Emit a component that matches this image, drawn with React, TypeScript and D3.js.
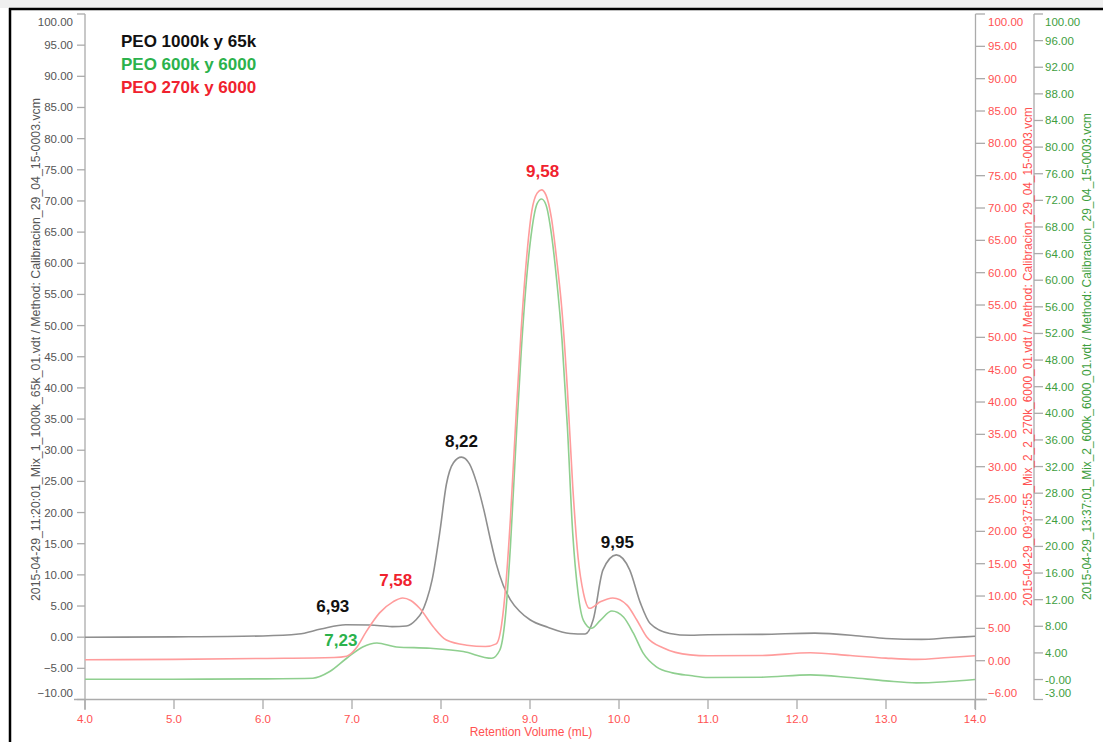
import React from "react";
import * as d3 from "d3";

// Retention volume (mL) vs detector response for three PEO calibration mixes.
// Each series is plotted against its own y axis.

const blackX = [4.0, 5.0, 6.0, 6.4, 6.65, 6.93, 7.2, 7.45, 7.61, 7.72, 7.78, 7.84, 7.9, 7.99, 8.06, 8.14, 8.23, 8.32, 8.4, 8.48, 8.55, 8.62, 8.7, 8.78, 8.88, 9.0, 9.2, 9.45, 9.62, 9.71, 9.82, 9.97, 10.12, 10.24, 10.35, 10.57, 10.8, 11.0, 11.6, 12.2, 12.7, 13.0, 13.4, 13.7, 14.0];
const blackY = [0.0, 0.05, 0.2, 0.5, 1.3, 2.0, 1.95, 1.7, 1.8, 2.8, 3.9, 6.0, 9.2, 17.2, 24.5, 28.0, 28.9, 27.8, 24.8, 20.5, 16.0, 11.8, 8.3, 6.0, 4.2, 2.8, 1.6, 0.6, 0.5, 2.8, 10.8, 13.2, 10.8, 5.5, 2.2, 0.6, 0.3, 0.4, 0.45, 0.65, 0.2, -0.2, -0.35, -0.1, 0.15];

const redX = [4.0, 5.0, 6.0, 6.8, 6.94, 7.05, 7.16, 7.31, 7.46, 7.57, 7.66, 7.76, 7.91, 8.06, 8.29, 8.5, 8.62, 8.68, 8.73, 8.78, 8.84, 8.9, 8.96, 9.02, 9.08, 9.13, 9.18, 9.24, 9.3, 9.36, 9.42, 9.48, 9.54, 9.6, 9.67, 9.79, 9.93, 10.09, 10.2, 10.31, 10.5, 10.8, 11.0, 11.6, 12.15, 12.6, 13.0, 13.34, 13.7, 14.0];
const redY = [0.15, 0.2, 0.35, 0.5, 0.7, 2.0, 4.5, 7.4, 9.1, 9.7, 9.3, 8.1, 5.3, 3.2, 2.4, 2.2, 2.6, 5.5, 12.0, 22.0, 37.0, 51.0, 62.0, 69.5, 72.3, 72.8, 72.0, 68.5, 62.0, 54.0, 42.0, 27.0, 16.0, 10.5, 8.1, 9.1, 9.7, 8.6, 6.3, 3.7, 1.96, 0.9, 0.77, 0.8, 1.24, 0.8, 0.4, 0.2, 0.5, 0.77];

const greenX = [4.0, 5.0, 6.0, 6.56, 6.75, 6.94, 7.12, 7.28, 7.5, 7.88, 8.25, 8.57, 8.66, 8.72, 8.78, 8.84, 8.9, 8.96, 9.02, 9.08, 9.13, 9.18, 9.24, 9.3, 9.36, 9.42, 9.48, 9.54, 9.6, 9.69, 9.79, 9.92, 10.05, 10.16, 10.27, 10.42, 10.6, 10.8, 11.0, 11.6, 12.15, 12.6, 13.0, 13.34, 13.7, 14.0];
const greenY = [0.05, 0.05, 0.1, 0.2, 1.2, 3.2, 4.9, 5.5, 4.9, 4.7, 4.2, 3.2, 4.4, 9.0, 20.0, 35.0, 49.0, 60.0, 67.5, 71.5, 72.2, 71.3, 67.0, 60.0, 51.0, 38.0, 22.0, 13.0, 8.9, 7.7, 8.9, 10.3, 9.4, 7.0, 4.0, 1.9, 1.0, 0.6, 0.3, 0.35, 0.7, 0.3, -0.2, -0.5, -0.3, 0.0];

const xTicks = [4, 5, 6, 7, 8, 9, 10, 11, 12, 13, 14];
const leftTicks = [-10, -5, 0, 5, 10, 15, 20, 25, 30, 35, 40, 45, 50, 55, 60, 65, 70, 75, 80, 85, 90, 95, 100];
const redTicks = [-6, 0, 5, 10, 15, 20, 25, 30, 35, 40, 45, 50, 55, 60, 65, 70, 75, 80, 85, 90, 95, 100];
const greenTicks = [-3, 0, 4, 8, 12, 16, 20, 24, 28, 32, 36, 40, 44, 48, 52, 56, 60, 64, 68, 72, 76, 80, 84, 88, 92, 96, 100];
const greenTickLabels = ["-3.00", "-0.00", "4.00", "8.00", "12.00", "16.00", "20.00", "24.00", "28.00", "32.00", "36.00", "40.00", "44.00", "48.00", "52.00", "56.00", "60.00", "64.00", "68.00", "72.00", "76.00", "80.00", "84.00", "88.00", "92.00", "96.00", "100.00"];

const legendLabels = ["PEO 1000k y 65k", "PEO 600k y 6000", "PEO 270k y 6000"];

const leftTitle = "2015-04-29_11:20:01_Mix_1_1000k_65k_01.vdt / Method: Calibracion_29_04_15-0003.vcm";
const redTitle = "2015-04-29_09:37:55_Mix_2_2_270k_6000_01.vdt / Method: Calibracion_29_04_15-0003.vcm";
const greenTitle = "2015-04-29_13:37:01_Mix_2_600k_6000_01.vdt / Method: Calibracion_29_04_15-0003.vcm";
const xTitle = "Retention Volume (mL)";

// Peak annotations: text, series, retention volume of the apex the text sits over
const peakLabels = ["6,93", "7,23", "7,58", "8,22", "9,58", "9,95"];
const peakSeries = ["black", "green", "red", "black", "red", "black"];
const peakApex = [6.93, 7.28, 7.57, 8.23, 9.13, 9.97];

const W = 1103;
const H = 742;
const FONT = "'Liberation Sans', Arial, Helvetica, sans-serif";

const x = d3.scaleLinear().domain([4, 14]).range([85, 975]);
const yBlack = d3.scaleLinear().domain([-10, 100]).range([699.5, 14]);
const yRed = d3.scaleLinear().domain([-6, 100]).range([699.5, 14]);
const yGreen = d3.scaleLinear().domain([-3, 100]).range([699.5, 14]);

const series = {
  black: { xs: blackX, ys: blackY, y: yBlack, line: "#8f8f8f", text: "#111111" },
  green: { xs: greenX, ys: greenY, y: yGreen, line: "#8fcf8f", text: "#2bb24c" },
  red: { xs: redX, ys: redY, y: yRed, line: "#ff9c9c", text: "#f0222e" },
};

// pixel offsets of each annotation relative to its apex
const peakOffsets = [
  [-13, -13],
  [-36, 3],
  [-7, -12],
  [0, -10],
  [1, -13],
  [1, -7],
];

function pathFor(key: "black" | "green" | "red") {
  const s = series[key];
  const pts = s.xs.map((v, i) => [v, s.ys[i]] as [number, number]);
  return d3
    .line<[number, number]>()
    .x((d) => x(d[0]))
    .y((d) => s.y(d[1]))
    .curve(d3.curveMonotoneX)(pts) as string;
}

function valueAt(key: "black" | "green" | "red", xv: number) {
  const s = series[key];
  const i = s.xs.indexOf(xv);
  if (i >= 0) return s.ys[i];
  const j = d3.bisectLeft(s.xs, xv);
  const t = (xv - s.xs[j - 1]) / (s.xs[j] - s.xs[j - 1]);
  return s.ys[j - 1] + t * (s.ys[j] - s.ys[j - 1]);
}

const clampLabel = (py: number) => Math.max(21.5, Math.min(693, py));

export default function App() {
  const axisColor = "#ababab";
  const leftColor = "#555555";
  const redColor = "#ff5252";
  const greenColor = "#3e9e3e";
  const fmt = d3.format(".2f");

  return (
    <svg
      width={W}
      height={H}
      style={{ position: "absolute", left: 0, top: 0, background: "#ffffff" }}
      fontFamily={FONT}
    >
      {/* page strip and frame */}
      <rect x={0} y={0} width={W} height={8} fill="#efefef" />
      <line x1={9} x2={W} y1={9} y2={9} stroke="#000" strokeWidth={2.5} />
      <line x1={10} x2={10} y1={8} y2={H} stroke="#000" strokeWidth={2.5} />

      {/* left axis */}
      <line x1={85} x2={85} y1={14} y2={710} stroke={axisColor} strokeWidth={1.3} />
      {leftTicks.map((v) => (
        <g key={"l" + v}>
          <line x1={77} x2={85} y1={yBlack(v)} y2={yBlack(v)} stroke={axisColor} strokeWidth={1.3} />
          <text x={73} y={clampLabel(yBlack(v)) + 4} textAnchor="end" fontSize={11.5} fill={leftColor}>
            {fmt(v)}
          </text>
        </g>
      ))}

      {/* red axis */}
      <line x1={975.5} x2={975.5} y1={14} y2={710} stroke={axisColor} strokeWidth={1.3} />
      {redTicks.map((v) => (
        <g key={"r" + v}>
          <line x1={975.5} x2={985} y1={yRed(v)} y2={yRed(v)} stroke={axisColor} strokeWidth={1.3} />
          <text x={988} y={clampLabel(yRed(v)) + 4} fontSize={11.5} fill={redColor}>
            {fmt(v)}
          </text>
        </g>
      ))}

      {/* green axis */}
      <line x1={1034} x2={1034} y1={14} y2={700} stroke={axisColor} strokeWidth={1.3} />
      {greenTicks.map((v, i) => (
        <g key={"g" + v}>
          <line x1={1034} x2={1043} y1={yGreen(v)} y2={yGreen(v)} stroke={axisColor} strokeWidth={1.3} />
          <text x={1045} y={clampLabel(yGreen(v)) + 4} fontSize={11.5} fill={greenColor}>
            {greenTickLabels[i]}
          </text>
        </g>
      ))}

      {/* x axis */}
      <line x1={74} x2={987} y1={699.5} y2={699.5} stroke={axisColor} strokeWidth={1.3} />
      {xTicks.map((v) => (
        <g key={"x" + v}>
          <line x1={x(v)} x2={x(v)} y1={699.5} y2={709} stroke={axisColor} strokeWidth={1.3} />
          <text x={x(v)} y={723} textAnchor="middle" fontSize={11.5} fill={redColor}>
            {v.toFixed(1)}
          </text>
        </g>
      ))}
      <text x={531} y={736} textAnchor="middle" fontSize={12} fill={redColor}>
        {xTitle}
      </text>

      {/* rotated axis titles */}
      <text transform="translate(40,601) rotate(-90)" fontSize={12} textLength={503} lengthAdjust="spacingAndGlyphs" fill={leftColor}>
        {leftTitle}
      </text>
      <text transform="translate(1032,606) rotate(-90)" fontSize={12} textLength={499} lengthAdjust="spacingAndGlyphs" fill={redColor}>
        {redTitle}
      </text>
      <text transform="translate(1091,600) rotate(-90)" fontSize={12} textLength={487} lengthAdjust="spacingAndGlyphs" fill={greenColor}>
        {greenTitle}
      </text>

      {/* traces */}
      <path d={pathFor("black")} fill="none" stroke={series.black.line} strokeWidth={1.6} />
      <path d={pathFor("green")} fill="none" stroke={series.green.line} strokeWidth={1.6} />
      <path d={pathFor("red")} fill="none" stroke={series.red.line} strokeWidth={1.6} />

      {/* peak annotations */}
      {peakLabels.map((t, i) => {
        const key = peakSeries[i] as "black" | "green" | "red";
        const s = series[key];
        const px = x(peakApex[i]) + peakOffsets[i][0];
        const py = s.y(valueAt(key, peakApex[i])) + peakOffsets[i][1];
        return (
          <text key={t + i} x={px} y={py} textAnchor="middle" fontSize={17} fontWeight="bold" fill={s.text}>
            {t}
          </text>
        );
      })}

      {/* legend */}
      {legendLabels.map((t, i) => (
        <text
          key={t}
          x={121}
          y={47 + i * 23}
          fontSize={17}
          fontWeight="bold"
          fill={[series.black.text, series.green.text, series.red.text][i]}
        >
          {t}
        </text>
      ))}
    </svg>
  );
}
